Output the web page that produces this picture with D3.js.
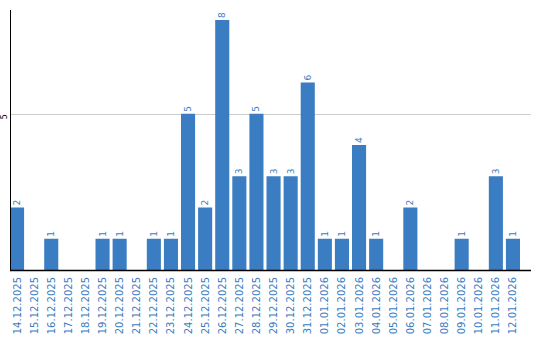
<!DOCTYPE html>
<html>
<head>
<meta charset="utf-8">
<script src="https://cdn.jsdelivr.net/npm/d3@7"></script>
<style>
  body { margin: 0; background: white; }
  svg { display: block; font-family: "DejaVu Sans", Verdana, sans-serif; }
</style>
</head>
<body>
<svg class="chart" width="540" height="340"></svg>
<script>
const dates = [
  "14.12.2025", "15.12.2025", "16.12.2025", "17.12.2025", "18.12.2025",
  "19.12.2025", "20.12.2025", "21.12.2025", "22.12.2025", "23.12.2025",
  "24.12.2025", "25.12.2025", "26.12.2025", "27.12.2025", "28.12.2025",
  "29.12.2025", "30.12.2025", "31.12.2025", "01.01.2026", "02.01.2026",
  "03.01.2026", "04.01.2026", "05.01.2026", "06.01.2026", "07.01.2026",
  "08.01.2026", "09.01.2026", "10.01.2026", "11.01.2026", "12.01.2026"
];
const counts = [2, 0, 1, 0, 0, 1, 1, 0, 1, 1, 5, 2, 8, 3, 5, 3, 3, 6, 1, 1, 4, 1, 0, 2, 0, 0, 1, 0, 3, 1];
const yTicks = [5];

const barColor = "#3a7dc2";
const textColor = "#3a7dc2";
const plotLeft = 10, plotRight = 531, plotTop = 10, plotBottom = 270;

const data = dates.map((d, i) => ({ date: d, value: counts[i] }));

const svg = d3.select("svg.chart");

const x = d3.scaleBand()
  .domain(dates)
  .range([plotLeft, plotLeft + 17 * dates.length])
  .paddingInner(3 / 17)
  .paddingOuter(0);

const y = d3.scaleLinear()
  .domain([0, 8.32])
  .range([plotBottom, plotTop]);

// grid
svg.append("g")
  .selectAll("line")
  .data(yTicks)
  .join("line")
  .attr("x1", plotLeft)
  .attr("x2", plotRight)
  .attr("y1", (d) => Math.round(y(d)) + 0.5)
  .attr("y2", (d) => Math.round(y(d)) + 0.5)
  .attr("stroke", "#cccccc");

// y tick labels
svg.append("g")
  .selectAll("text")
  .data(yTicks)
  .join("text")
  .attr("transform", (d) => `translate(7,${y(d) + 3}) rotate(-90)`)
  .attr("text-anchor", "middle")
  .attr("font-size", 8)
  .attr("fill", "#000")
  .text((d) => d);

// bars
svg.append("g")
  .selectAll("rect")
  .data(data.filter((d) => d.value > 0))
  .join("rect")
  .attr("x", (d) => x(d.date))
  .attr("y", (d) => y(d.value))
  .attr("width", x.bandwidth())
  .attr("height", (d) => plotBottom - y(d.value))
  .attr("fill", barColor);

// value labels
svg.append("g")
  .selectAll("text")
  .data(data.filter((d) => d.value > 0))
  .join("text")
  .attr("transform", (d) =>
    `translate(${x(d.date) + x.bandwidth() / 2 + 3},${y(d.value) - 2}) rotate(-90)`)
  .attr("font-size", 9)
  .attr("fill", textColor)
  .text((d) => d.value);

// axes lines
svg.append("line")
  .attr("x1", plotLeft + 0.5).attr("x2", plotLeft + 0.5)
  .attr("y1", plotTop).attr("y2", plotBottom)
  .attr("stroke", "#000");
svg.append("line")
  .attr("x1", plotLeft).attr("x2", plotRight)
  .attr("y1", plotBottom + 0.5).attr("y2", plotBottom + 0.5)
  .attr("stroke", "#000")
  .attr("stroke-width", 1.5);

// x labels
svg.append("g")
  .selectAll("text")
  .data(dates)
  .join("text")
  .attr("transform", (d) =>
    `translate(${x(d) + x.bandwidth() / 2 + 3.5},${plotBottom + 7}) rotate(-90)`)
  .attr("text-anchor", "end")
  .attr("font-size", 10)
  .attr("fill", textColor)
  .text((d) => d);
</script>
</body>
</html>
